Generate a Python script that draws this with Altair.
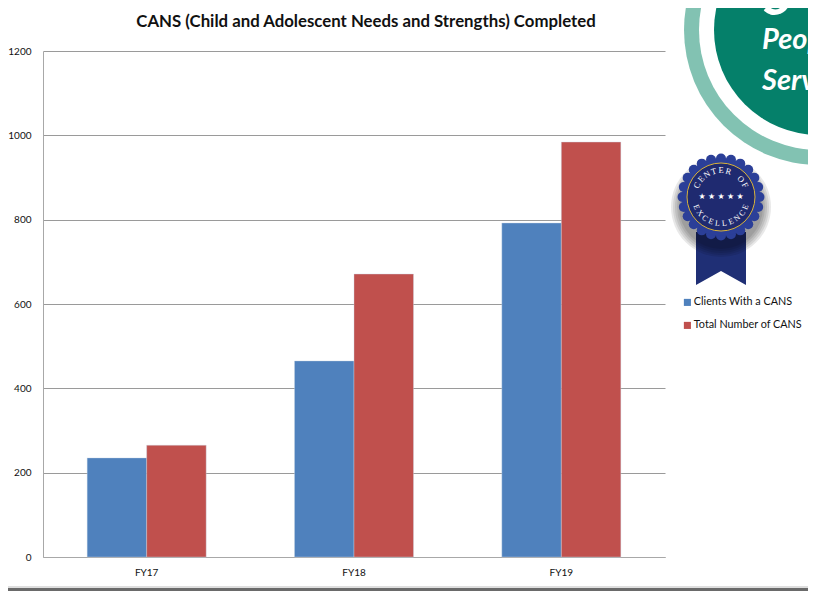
import math
import altair as alt
import pandas as pd

years = ["FY17", "FY18", "FY19"]
clients = [235, 465, 792]
totals = [265, 671, 984]
series = ["Clients With a CANS", "Total Number of CANS"]
colors = ["#4F81BD", "#C0504D"]
FONT = "Lato"
TITLE = "CANS (Child and Adolescent Needs and Strengths) Completed"

rows = []
for i, y in enumerate(years):
    rows.append({"year": y, "series": series[0], "value": clients[i]})
    rows.append({"year": y, "series": series[1], "value": totals[i]})
df = pd.DataFrame(rows)
one = pd.DataFrame({"a": [0]})

# page position -> plot-relative pixel
OX, OY = 43, 51
def px(x): return alt.value(x - OX)
def py(y): return alt.value(y - OY)

bars = alt.Chart(df).mark_bar(stroke="#C9D6E6", strokeWidth=0.4).encode(
    x=alt.X("year:N", sort=years, title=None,
            scale=alt.Scale(paddingInner=0.426, paddingOuter=0.213),
            axis=alt.Axis(labelAngle=0, labelFont=FONT, labelFontSize=10, labelColor="#111111",
                          domainColor="#A8A8A8", domainWidth=1, ticks=False, labelPadding=10, grid=False)),
    xOffset=alt.XOffset("series:N", sort=series),
    y=alt.Y("value:Q", title=None, scale=alt.Scale(domain=[0, 1200]),
            axis=alt.Axis(values=[0, 200, 400, 600, 800, 1000, 1200], format="d", labelFont=FONT, labelFontSize=10,
                          labelColor="#111111", gridColor="#9A9A9A", gridWidth=1, grid=True,
                          domainColor="#A8A8A8", domainWidth=1, ticks=False, labelPadding=12)),
    color=alt.Color("series:N", sort=series,
                    scale=alt.Scale(domain=series, range=colors),
                    legend=alt.Legend(title=None, orient="none", legendX=684 - OX - 2, legendY=297 - OY,
                                      symbolType="square", symbolSize=50, symbolStrokeWidth=0,
                                      labelFont=FONT, labelFontSize=10.8, labelColor="#111111",
                                      rowPadding=11, labelOffset=1, padding=0)),
)

def circle(x, y, r, color, opacity=1.0, stroke=None, sw=0):
    size = 4 * r * r
    if stroke:
        m = alt.Chart(one).mark_point(size=size, stroke=stroke, strokeWidth=sw, fillOpacity=0, filled=False, opacity=opacity)
    else:
        m = alt.Chart(one).mark_circle(size=size, color=color, opacity=opacity)
    return m.encode(x=px(x), y=py(y))

def label(x, y, text, size, color="#FFFFFF", angle=0, weight="normal", style="normal", align="center", font=FONT):
    return alt.Chart(one).mark_text(text=text, fontSize=size, color=color, angle=angle % 360, fontWeight=weight,
                                    fontStyle=style, align=align, baseline="middle", font=font).encode(x=px(x), y=py(y))

layers = [bars]

layers.append(label(366, 22, TITLE, 16.8, color="#111111", weight="bold"))

# green circle
CX, CY = 819, 30
layers.append(circle(CX, CY, 135, "#82C2B2"))
layers.append(circle(CX, CY, 120, "#FFFFFF"))
layers.append(circle(CX, CY, 105, "#05806A"))
layers.append(label(762, -2, "54", 56, weight="bold", style="italic", align="left"))
layers.append(label(762, 40, "People", 29, weight="bold", style="italic", align="left"))
layers.append(label(762, 81, "Served", 29, weight="bold", style="italic", align="left"))

# outer frame remains
layers.append(alt.Chart(one).mark_rule(color="#BDBDBD", strokeWidth=1).encode(x=px(0), x2=px(816), y=py(587)))
layers.append(alt.Chart(one).mark_rule(color="#6A6A6A", strokeWidth=3).encode(x=px(0), x2=px(816), y=py(589.5)))

# badge
BX, BY = 721, 197
layers.append(alt.Chart(one).mark_point(
    shape="M-0.943,-1L0.943,-1L0.943,1L0,0.472L-0.943,1Z", size=2809, filled=True, color="#1F2F75", opacity=1
).encode(x=px(721), y=py(258.5)))
for r in [50, 48, 46, 44, 42]:
    layers.append(circle(BX, BY + 10, r, "#000000", 0.09))
N = 24
for i in range(N):
    t = 2 * math.pi * i / N
    layers.append(circle(BX + 38.5 * math.cos(t), BY + 38.5 * math.sin(t), 5, "#2B3F98"))
layers.append(circle(BX, BY, 39, "#2B3F98"))
layers.append(circle(BX, BY, 34, "#1F2A70"))
layers.append(circle(BX, BY, 34, "#D8B23A", stroke="#D8B23A", sw=1))
for dx in [-19, -9.5, 0, 9.5, 19]:
    layers.append(label(BX + dx, BY, "★", 8, font="DejaVu Sans"))
word1 = "CENTER OF"
for i, ch in enumerate(word1):
    a = -64 + i * 16
    t = math.radians(a - 90)
    layers.append(label(BX + 27 * math.cos(t), BY + 27 * math.sin(t), ch, 8.5, angle=a, font="Liberation Serif"))
word2 = "EXCELLENCE"
for i, ch in enumerate(word2):
    a = 67.5 - i * 15
    t = math.radians(90 + a)
    layers.append(label(BX + 27 * math.cos(t), BY + 27 * math.sin(t), ch, 8, angle=a, font="Liberation Serif"))

chart = alt.layer(*layers).properties(
    width=622, height=506,
    autosize=alt.AutoSizeParams(type="none"),
    padding={"left": 35, "top": 43, "right": 143, "bottom": 34},
    background="#FFFFFF",
).configure_view(stroke=None)

chart.save("out.html", embed_options={"renderer": "svg", "actions": False})
